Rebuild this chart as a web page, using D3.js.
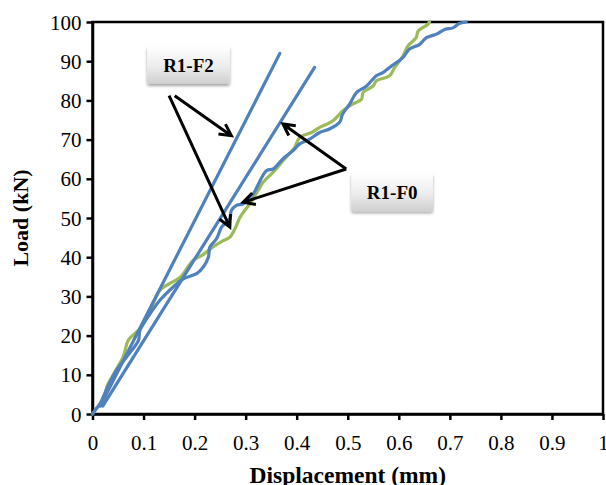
<!DOCTYPE html>
<html>
<head>
<meta charset="utf-8">
<script src="https://cdn.jsdelivr.net/npm/d3@7"></script>
<style>
  body { margin: 0; background: #fff; }
  svg { font-family: "Liberation Serif", "Times New Roman", serif; }
</style>
</head>
<body>
<svg id="chart" width="606" height="485"></svg>
<script>
(function () {
  const width = 606;
  const height = 485;
  const margin = { top: 22, left: 92.5, right: 3, bottom: 71 };

  const xTicks = [0, 0.1, 0.2, 0.3, 0.4, 0.5, 0.6, 0.7, 0.8, 0.9, 1];
  const yTicks = [0, 10, 20, 30, 40, 50, 60, 70, 80, 90, 100];

  // straight reference lines (stiffness)
  const lineSteep = [[0.015, 2], [0.367, 92]];
  const lineFlat = [[0.02, 2], [0.435, 88.4]];

  // measured blue curve
  const blueCurve = [
    [0, 0], [0.008, 1.5], [0.015, 2.7], [0.03, 7], [0.047, 11.2], [0.067, 14.6],
    [0.09, 18.8], [0.093, 21.4], [0.113, 25.6], [0.132, 29.0], [0.158, 32.4],
    [0.178, 34.5], [0.204, 35.8], [0.217, 37.5], [0.227, 40.0], [0.230, 42.6],
    [0.243, 44.7], [0.253, 47.7], [0.269, 49.8], [0.272, 51.9], [0.282, 53.2],
    [0.295, 53.6], [0.308, 55.3], [0.315, 56.2], [0.341, 62.1], [0.354, 62.5],
    [0.373, 65.1], [0.393, 67.2], [0.406, 68.9], [0.426, 70.2], [0.445, 71.8],
    [0.464, 72.7], [0.484, 74.4], [0.490, 76.5], [0.504, 79.1], [0.517, 82.0],
    [0.537, 83.7], [0.556, 86.3], [0.569, 87.1], [0.586, 88.8], [0.608, 90.9],
    [0.621, 93.1], [0.641, 94.3], [0.654, 96.0], [0.674, 96.9], [0.690, 98.1],
    [0.706, 98.5], [0.718, 99.6], [0.732, 100]
  ];

  // measured green curve
  const greenCurve = [
    [0, 0], [0.012, 2], [0.024, 3.6], [0.028, 6.9], [0.045, 11], [0.060, 14.6],
    [0.064, 16.3], [0.070, 18.8], [0.096, 22.2], [0.115, 27], [0.132, 31.6],
    [0.150, 33.2], [0.172, 34.9], [0.197, 39.2], [0.216, 40.6], [0.236, 42.6],
    [0.256, 44.2], [0.269, 45.1], [0.280, 47.5], [0.289, 50.2], [0.308, 53.6],
    [0.328, 57.8], [0.334, 59.1], [0.354, 61.7], [0.373, 64.6], [0.396, 68.0],
    [0.406, 70.6], [0.429, 71.8], [0.445, 73.1], [0.471, 74.8], [0.491, 77.4],
    [0.510, 79.1], [0.527, 80.3], [0.530, 82.0], [0.550, 83.7], [0.556, 85.0],
    [0.582, 86.3], [0.592, 88.4], [0.608, 91.3], [0.618, 93.9], [0.634, 96.0],
    [0.638, 97.7], [0.657, 99.4], [0.660, 100]
  ];

  // callout boxes: label, x0, x1, yTop, yBottom (data units)
  const callouts = [
    { label: 'R1-F2', x0: 0.107, x1: 0.269, y0: 93.9, y1: 84.2 },
    { label: 'R1-F0', x0: 0.507, x1: 0.667, y0: 61.4, y1: 51.7 }
  ];
  // arrows: from -> to (data units)
  const arrows = [
    [[0.161, 81.2], [0.272, 71.0]],
    [[0.150, 81.2], [0.269, 47.7]],
    [[0.497, 62.5], [0.373, 74.0]],
    [[0.497, 62.5], [0.295, 54.0]]
  ];

  const xScale = d3.scaleLinear().domain([0, 1]).range([margin.left, width - margin.right]);
  const yScale = d3.scaleLinear().domain([0, 100]).range([height - margin.bottom, margin.top]);

  const svg = d3.select('#chart');

  const defs = svg.append('defs');
  const grad = defs.append('linearGradient')
    .attr('id', 'boxGrad')
    .attr('x1', 0).attr('y1', 0).attr('x2', 0).attr('y2', 1);
  grad.append('stop').attr('offset', '0%').attr('stop-color', '#ffffff');
  grad.append('stop').attr('offset', '55%').attr('stop-color', '#ececec');
  grad.append('stop').attr('offset', '100%').attr('stop-color', '#cfcfcf');
  const shadow = defs.append('filter').attr('id', 'shadow')
    .attr('x', '-20%').attr('y', '-20%').attr('width', '140%').attr('height', '150%');
  shadow.append('feDropShadow')
    .attr('dx', 0).attr('dy', 2).attr('stdDeviation', 1.5)
    .attr('flood-color', '#000').attr('flood-opacity', 0.35);

  const plot = svg.append('g');

  // plot frame
  plot.append('rect')
    .attr('x', xScale(0))
    .attr('y', yScale(100))
    .attr('width', xScale(1) - xScale(0))
    .attr('height', yScale(0) - yScale(100))
    .attr('fill', 'none')
    .attr('stroke', '#000')
    .attr('stroke-width', 2.5);

  const xAxis = d3.axisBottom(xScale)
    .tickValues(xTicks)
    .tickSize(6)
    .tickSizeOuter(0)
    .tickFormat(d => d === 0 || d === 1 ? d3.format('d')(d) : d3.format('.1f')(d));
  const yAxis = d3.axisLeft(yScale)
    .tickValues(yTicks)
    .tickSize(6)
    .tickSizeOuter(0)
    .tickFormat(d3.format('d'));

  const gx = plot.append('g')
    .attr('transform', `translate(0, ${yScale(0)})`)
    .call(xAxis);
  const gy = plot.append('g')
    .attr('transform', `translate(${xScale(0)}, 0)`)
    .call(yAxis);

  [gx, gy].forEach(g => {
    g.select('.domain').attr('stroke', '#000').attr('stroke-width', 2.5);
    g.selectAll('.tick line').attr('stroke', '#000').attr('stroke-width', 2.5);
    g.selectAll('.tick text')
      .attr('fill', '#000')
      .style('font-family', '"Liberation Serif", serif')
      .style('font-size', '21px');
  });
  gx.selectAll('.tick text').attr('dy', null).attr('y', 36);
  gy.selectAll('.tick text').attr('x', -11).attr('dy', '0.34em');

  // axis titles
  svg.append('text')
    .attr('x', (xScale(0) + xScale(1)) / 2)
    .attr('y', 483)
    .attr('text-anchor', 'middle')
    .style('font-weight', 'bold')
    .style('font-size', '23.5px')
    .text('Displacement (mm)');
  svg.append('text')
    .attr('transform', `translate(28, ${(yScale(0) + yScale(100)) / 2}) rotate(-90)`)
    .attr('text-anchor', 'middle')
    .style('font-weight', 'bold')
    .style('font-size', '22px')
    .text('Load (kN)');

  const line = d3.line()
    .x(d => xScale(d[0]))
    .y(d => yScale(d[1]))
    .curve(d3.curveCatmullRom.alpha(0.5));

  const series = [
    { data: greenCurve, color: '#9bbb59' },
    { data: blueCurve, color: '#4f81bd' },
    { data: lineSteep, color: '#4f81bd' },
    { data: lineFlat, color: '#4f81bd' }
  ];

  plot.selectAll('.series')
    .data(series)
    .enter()
    .append('path')
    .attr('class', 'series')
    .attr('d', d => line(d.data))
    .attr('fill', 'none')
    .attr('stroke', d => d.color)
    .attr('stroke-width', 3.2)
    .attr('stroke-linejoin', 'round')
    .attr('stroke-linecap', 'round');

  // arrows with open heads
  const headLen = 13;
  const headAng = Math.PI / 6.5;
  const arrowG = svg.append('g');
  arrows.forEach(a => {
    const x1 = xScale(a[0][0]), y1 = yScale(a[0][1]);
    const x2 = xScale(a[1][0]), y2 = yScale(a[1][1]);
    const ang = Math.atan2(y2 - y1, x2 - x1);
    const p = d3.path();
    p.moveTo(x1, y1);
    p.lineTo(x2, y2);
    p.moveTo(x2 - headLen * Math.cos(ang - headAng), y2 - headLen * Math.sin(ang - headAng));
    p.lineTo(x2, y2);
    p.lineTo(x2 - headLen * Math.cos(ang + headAng), y2 - headLen * Math.sin(ang + headAng));
    arrowG.append('path')
      .attr('d', p.toString())
      .attr('fill', 'none')
      .attr('stroke', '#000')
      .attr('stroke-width', 3)
      .attr('stroke-linejoin', 'miter')
      .attr('stroke-linecap', 'butt');
  });

  // callout boxes
  const boxes = svg.selectAll('.callout')
    .data(callouts)
    .enter()
    .append('g')
    .attr('class', 'callout');
  boxes.append('rect')
    .attr('x', d => xScale(d.x0))
    .attr('y', d => yScale(d.y0))
    .attr('width', d => xScale(d.x1) - xScale(d.x0))
    .attr('height', d => yScale(d.y1) - yScale(d.y0))
    .attr('rx', 2)
    .attr('fill', 'url(#boxGrad)')
    .attr('filter', 'url(#shadow)');
  boxes.append('text')
    .attr('x', d => (xScale(d.x0) + xScale(d.x1)) / 2)
    .attr('y', d => (yScale(d.y0) + yScale(d.y1)) / 2)
    .attr('dy', '0.35em')
    .attr('text-anchor', 'middle')
    .style('font-weight', 'bold')
    .style('font-size', '19px')
    .text(d => d.label);
})();
</script>
</body>
</html>
